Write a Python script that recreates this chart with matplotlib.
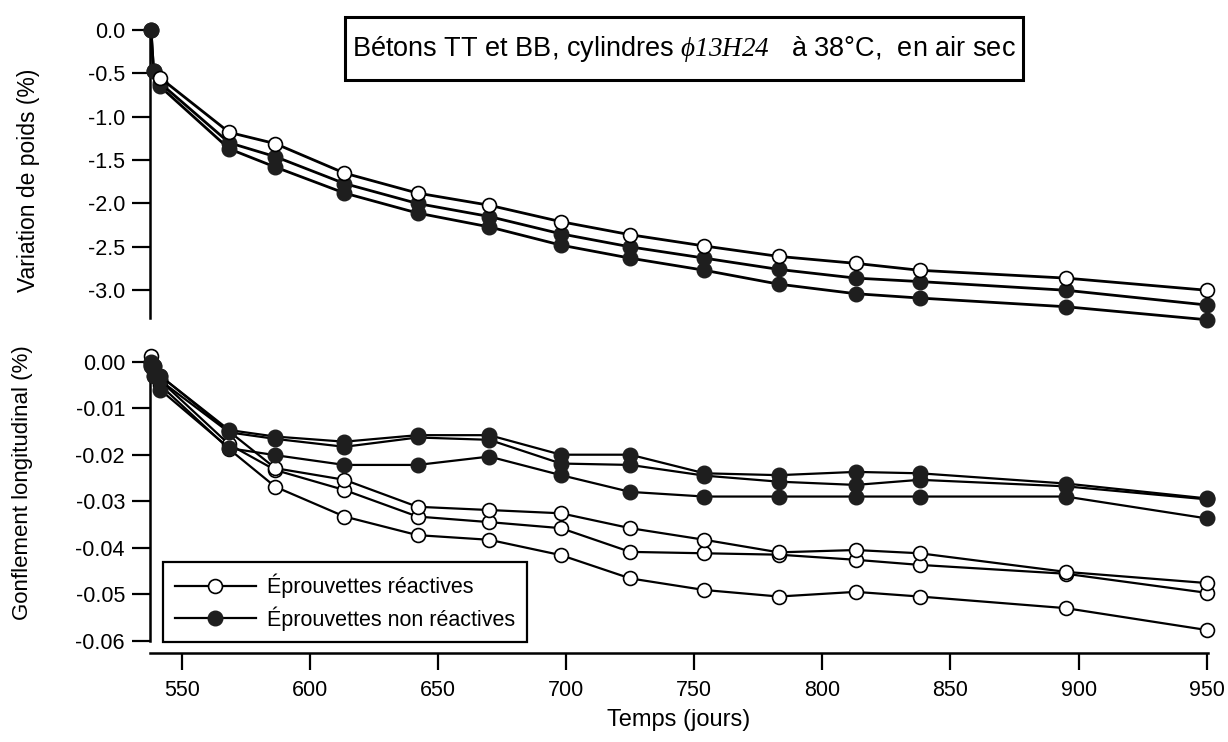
import numpy as np
import matplotlib
matplotlib.use("Agg")
import matplotlib.pyplot as plt
from matplotlib.patches import Rectangle

plt.rcParams['font.family'] = ['Liberation Sans', 'DejaVu Sans']
# italic serif for the specimen size in the title (digits go through 'rm' in mathtext)
plt.rcParams['mathtext.fontset'] = 'custom'
plt.rcParams['mathtext.it'] = 'Liberation Serif:italic'
plt.rcParams['mathtext.rm'] = 'Liberation Serif:italic'
plt.rcParams['mathtext.fallback'] = 'stix'

nan = np.nan

# Temps (jours)
jours = [538, 539, 541.5, 568.5, 586.5, 613.5, 642, 670, 698, 725, 754, 783, 813, 838, 895, 950]

# Variation de poids (%) - panneau du haut
poids_reac = [nan, nan, -0.55, -1.18, -1.31, -1.65, -1.88, -2.02, -2.21, -2.36, -2.49, -2.61, -2.69, -2.77, -2.86, -3.00]
poids_nonreac_1 = [0.0, -0.47, -0.61, -1.30, -1.46, -1.77, -2.00, -2.15, -2.35, -2.50, -2.63, -2.76, -2.86, -2.90, -3.00, -3.17]
poids_nonreac_2 = [0.0, -0.47, -0.65, -1.37, -1.58, -1.88, -2.11, -2.27, -2.48, -2.63, -2.77, -2.93, -3.04, -3.09, -3.19, -3.34]

# Gonflement longitudinal (%) - panneau du bas
gonf_reac_1 = [0.0012, -0.001, -0.003, -0.0150, -0.0229, -0.0254, -0.0312, -0.0319, -0.0326, -0.0358, -0.0383, -0.0410, -0.0405, -0.0412, -0.0452, -0.0476]
gonf_reac_2 = [0.0, -0.002, -0.004, -0.0178, -0.0233, -0.0276, -0.0333, -0.0345, -0.0358, -0.0409, -0.0412, -0.0415, -0.0426, -0.0437, -0.0456, -0.0497]
gonf_reac_3 = [-0.001, -0.003, -0.005, -0.0188, -0.0269, -0.0333, -0.0373, -0.0383, -0.0416, -0.0466, -0.0491, -0.0505, -0.0495, -0.0505, -0.0530, -0.0577]
gonf_nonreac_1 = [0.0, -0.001, -0.003, -0.0147, -0.0161, -0.0172, -0.0158, -0.0158, -0.0200, -0.0200, -0.0240, -0.0244, -0.0237, -0.0240, -0.0262, -0.0294]
gonf_nonreac_2 = [-0.0005, -0.002, -0.004, -0.0152, -0.0166, -0.0183, -0.0163, -0.0168, -0.0219, -0.0222, -0.0245, -0.0258, -0.0265, -0.0254, -0.0268, -0.0296]
gonf_nonreac_3 = [-0.001, -0.003, -0.006, -0.0186, -0.0201, -0.0222, -0.0222, -0.0204, -0.0244, -0.0280, -0.0290, -0.0290, -0.0290, -0.0290, -0.0290, -0.0337]

titre = "Bétons TT et BB, cylindres $\\mathit{\\phi 13H24}$   à 38°C,  en air sec"
lab_reac = "Éprouvettes réactives"
lab_nonreac = "Éprouvettes non réactives"

W, H = 1228, 742
fig = plt.figure(figsize=(W / 100, H / 100), dpi=100)

ax1 = fig.add_axes([150 / W, 1 - 318 / H, 1058 / W, 288 / H])
ax2 = fig.add_axes([150 / W, 1 - 640.7 / H, 1058 / W, 279 / H])

open_style = dict(marker='o', ms=10, mfc='white', mec='black', mew=1.2, color='black', clip_on=False)
fill_style = dict(marker='o', ms=10.5, mfc='#1e1e1e', mec='#1e1e1e', mew=1, color='black', clip_on=False)

# top panel: open markers on top of filled ones
for serie in [poids_nonreac_2, poids_nonreac_1]:
    ax1.plot(jours, serie, lw=2, zorder=3, **fill_style)
ax1.plot(jours, poids_reac, lw=2, zorder=4, **open_style)

# bottom panel: filled markers on top
h_reac = None
for serie in [gonf_reac_3, gonf_reac_2, gonf_reac_1]:
    h_reac, = ax2.plot(jours, serie, lw=1.6, zorder=3, **open_style)
h_nonreac = None
for serie in [gonf_nonreac_3, gonf_nonreac_2, gonf_nonreac_1]:
    h_nonreac, = ax2.plot(jours, serie, lw=1.6, zorder=4, **fill_style)

for ax in (ax1, ax2):
    ax.set_xlim(537.6, 950.5)
    ax.spines['top'].set_visible(False)
    ax.spines['right'].set_visible(False)
    ax.spines['left'].set_linewidth(1.8)
    ax.tick_params(axis='y', direction='out', length=13, width=1.6, pad=5, labelsize=15.5)

ax1.spines['bottom'].set_visible(False)
ax1.set_ylim(-3.32, 0.0)
ax1.set_yticks([0.0, -0.5, -1.0, -1.5, -2.0, -2.5, -3.0])
ax1.set_yticklabels(["0.0", "-0.5", "-1.0", "-1.5", "-2.0", "-2.5", "-3.0"])
ax1.set_xticks([])

ax2.set_ylim(-0.06, 0.0)
ax2.set_yticks([0.0, -0.01, -0.02, -0.03, -0.04, -0.05, -0.06])
ax2.set_yticklabels(["0.00", "-0.01", "-0.02", "-0.03", "-0.04", "-0.05", "-0.06"])
ax2.spines['bottom'].set_position(('outward', 9))
ax2.spines['bottom'].set_linewidth(1.8)
ax2.set_xticks([550, 600, 650, 700, 750, 800, 850, 900, 950])
ax2.tick_params(axis='x', direction='out', length=12, width=1.6, pad=7, labelsize=15.5)

fig.text(29 / W, 1 - 180 / H, "Variation de poids (%)", rotation=90,
         ha='center', va='center', fontsize=16.5)
fig.text(23 / W, 1 - 483 / H, "Gonflement longitudinal (%)", rotation=90,
         ha='center', va='center', fontsize=16)
fig.text(679 / W, 1 - 720 / H, "Temps (jours)", ha='center', va='center', fontsize=17)

# title box
fig.add_artist(Rectangle((345 / W, 1 - 80 / H), 678 / W, 63 / H, transform=fig.transFigure,
                         facecolor='white', edgecolor='black', lw=2.2, zorder=5))
fig.text(684 / W, 1 - 49 / H, titre, ha='center', va='center', fontsize=19.5, zorder=6)

leg = ax2.legend([h_reac, h_nonreac], [lab_reac, lab_nonreac], loc='lower left',
                 bbox_to_anchor=(0.012, -0.006), borderaxespad=0, fontsize=15.5,
                 handlelength=3.8, handletextpad=0.5, labelspacing=0.35, borderpad=0.55,
                 fancybox=False, framealpha=1, edgecolor='black')
leg.get_frame().set_linewidth(1.6)
leg.set_zorder(10)

fig.savefig("out.png", dpi=100)
